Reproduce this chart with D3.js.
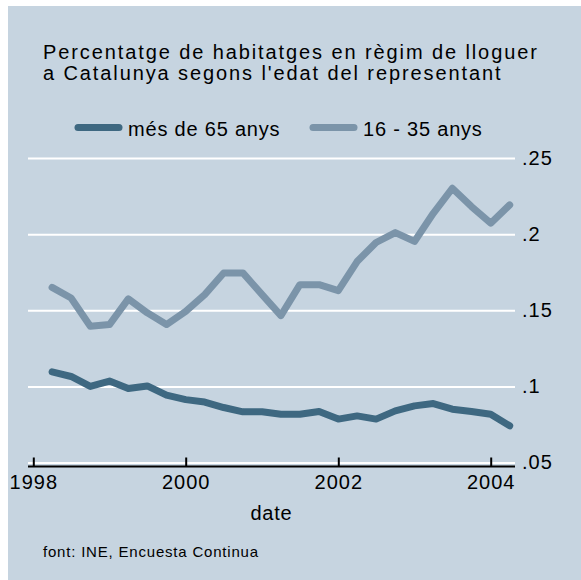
<!DOCTYPE html>
<html>
<head>
<meta charset="utf-8">
<script src="https://cdn.jsdelivr.net/npm/d3@7"></script>
<style>
  body { margin: 0; background: #ffffff; }
  svg { display: block; font-family: "Liberation Sans", Arial, sans-serif; }
</style>
</head>
<body>
<svg></svg>
<script>
var width = 581;
var height = 580;

// quarterly observations, 1998q2 - 2004q2
var dates = ["1998-04", "1998-07", "1998-10",
             "1999-01", "1999-04", "1999-07", "1999-10",
             "2000-01", "2000-04", "2000-07", "2000-10",
             "2001-01", "2001-04", "2001-07", "2001-10",
             "2002-01", "2002-04", "2002-07", "2002-10",
             "2003-01", "2003-04", "2003-07", "2003-10",
             "2004-01", "2004-04"];

var mes65 = [0.1095, 0.1065, 0.1000, 0.1035, 0.0986, 0.1003, 0.0942,
             0.0913, 0.0897, 0.0861, 0.0833, 0.0833, 0.0817, 0.0817,
             0.0835, 0.0785, 0.0806, 0.0785, 0.0839, 0.0872, 0.0887,
             0.0850, 0.0835, 0.0817, 0.0741];

var jove = [0.1650, 0.1580, 0.1395, 0.1406, 0.1575, 0.1483, 0.1406,
            0.1493, 0.1603, 0.1745, 0.1745, 0.1603, 0.1465, 0.1668,
            0.1668, 0.1629, 0.1820, 0.1945, 0.2010, 0.1952, 0.2137,
            0.2301, 0.2181, 0.2072, 0.2192];

var seriesNames = ["més de 65 anys", "16 - 35 anys"];
var seriesColors = ["#3e6881", "#7b94a9"];

var yTicks = [0.05, 0.1, 0.15, 0.2, 0.25];
var yTickLabels = [".05", ".1", ".15", ".2", ".25"];
var xTicks = ["1998", "2000", "2002", "2004"];

var titleLines = ["Percentatge de habitatges en règim de lloguer",
                  "a Catalunya segons l'edat del representant"];
var xTitle = "date";
var note = "font: INE, Encuesta Continua";

var parseMonth = d3.timeParse("%Y-%m");
var parseYear = d3.timeParse("%Y");

var plot = { "left": 28, "right": 515, "top": 158, "bottom": 462.5 };

var svg = d3.select("svg")
            .attr("width", width)
            .attr("height", height);

svg.append("rect")
   .attr("x", 8)
   .attr("y", 6)
   .attr("width", width - 8)
   .attr("height", height - 6)
   .attr("fill", "#c6d4e0");

var scaleX = d3.scaleTime()
               .domain([parseYear("1998"), parseYear("2004")])
               .range([33.3, 490.7]);

var scaleY = d3.scaleLinear()
               .domain([0.05, 0.25])
               .range([plot.bottom, plot.top]);

// gridlines + y labels on the right
var yAxis = d3.axisRight(scaleY)
              .tickValues(yTicks)
              .tickFormat(function(d, i) { return yTickLabels[i]; })
              .tickSizeInner(-(plot.right - plot.left))
              .tickSizeOuter(0)
              .tickPadding(7);

svg.append("g")
   .attr("class", "yAxis")
   .attr("transform", "translate(" + plot.right + ",0)")
   .call(yAxis)
   .call(function(g) {
      g.select(".domain").remove();
      g.selectAll("line").attr("stroke", "#ffffff").attr("stroke-width", 2);
      g.selectAll("text")
       .attr("fill", "#000000")
       .style("font-size", "20px")
       .style("letter-spacing", "1px");
   });

// x axis, ticks pointing up
var xAxis = d3.axisBottom(scaleX)
              .tickValues(xTicks.map(function(d) { return parseYear(d); }))
              .tickFormat(d3.timeFormat("%Y"))
              .tickSizeInner(-9)
              .tickSizeOuter(0)
              .tickPadding(8);

svg.append("g")
   .attr("class", "xAxis")
   .attr("transform", "translate(0,466.5)")
   .call(xAxis)
   .call(function(g) {
      g.select(".domain")
       .attr("d", "M" + plot.left + ",0H" + plot.right)
       .attr("stroke", "#000000")
       .attr("stroke-width", 2);
      g.selectAll("line").attr("stroke", "#000000").attr("stroke-width", 2);
      g.selectAll("text")
       .attr("fill", "#000000")
       .style("font-size", "20px")
       .style("letter-spacing", "1px");
   });

drawLine(mes65, seriesColors[0]);
drawLine(jove, seriesColors[1]);

function drawLine(values, color) {
  var data = values.map(function(v, i) { return { "date": parseMonth(dates[i]), "value": v }; });
  var line = d3.line()
               .x(function(d) { return scaleX(d.date); })
               .y(function(d) { return scaleY(d.value); });
  svg.append("path")
     .datum(data)
     .attr("d", line)
     .attr("fill", "none")
     .attr("stroke", color)
     .attr("stroke-width", 7)
     .attr("stroke-linecap", "round")
     .attr("stroke-linejoin", "round");
}

// title
svg.append("g")
   .selectAll("text")
   .data(titleLines)
   .enter()
   .append("text")
   .attr("x", 43)
   .attr("y", function(d, i) { return 59 + i * 21; })
   .style("font-size", "20px")
   .style("letter-spacing", "1.9px")
   .text(function(d) { return d; });

// legend
var legendX = [78, 313];
var legend = svg.append("g")
                .selectAll("g")
                .data(seriesNames)
                .enter()
                .append("g")
                .attr("transform", function(d, i) { return "translate(" + legendX[i] + ",127.5)"; });

legend.append("line")
      .attr("x1", 0)
      .attr("x2", 41)
      .attr("stroke", function(d, i) { return seriesColors[i]; })
      .attr("stroke-width", 7)
      .attr("stroke-linecap", "round");

legend.append("text")
      .attr("x", 50)
      .attr("y", 8)
      .style("font-size", "20px")
      .style("letter-spacing", "0.8px")
      .text(function(d) { return d; });

svg.append("text")
   .attr("x", (plot.left + plot.right) / 2)
   .attr("y", 520)
   .attr("text-anchor", "middle")
   .style("font-size", "20px")
   .style("letter-spacing", "0.8px")
   .text(xTitle);

svg.append("text")
   .attr("x", 43)
   .attr("y", 557)
   .style("font-size", "15px")
   .style("letter-spacing", "0.8px")
   .text(note);
</script>
</body>
</html>
